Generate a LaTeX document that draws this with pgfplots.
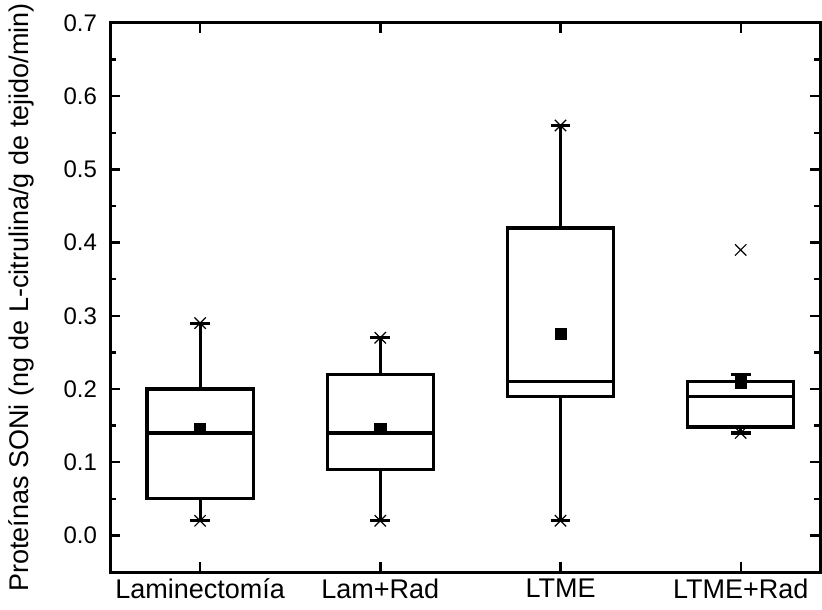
\documentclass[border=0pt]{standalone}
\usepackage{fontspec}
\setmainfont{Liberation Sans}
\usepackage{pgfplots}
\pgfplotsset{compat=1.18}
\begin{document}
\begin{tikzpicture}
\begin{axis}[
  scale only axis, width=355pt, height=274.5pt,
  xmin=0.5, xmax=4.44, ymin=-0.05, ymax=0.7,
  xtick={1,2,3,4},
  xticklabels={Laminectomía, Lam+Rad, LTME, LTME+Rad},
  ytick={0,0.1,0.2,0.3,0.4,0.5,0.6,0.7},
  minor y tick num=1,
  tick align=inside,
  major tick length=5pt, minor tick length=3pt,
  axis line style={line width=1.5pt},
  every tick/.style={black, line width=1.2pt},
  xticklabel style={font=\fontsize{13.5}{15}\selectfont},
  yticklabel style={font=\fontsize{12}{14}\selectfont, xshift=-3pt, /pgf/number format/.cd, fixed, fixed zerofill, precision=1, assume math mode=true},
  ylabel={Proteínas SONi (ng de L-citrulina/g de tejido/min)},
  ylabel style={font=\fontsize{13.5}{16}\selectfont},
  ylabel shift=8pt,
  unbounded coords=jump,
  clip=false,
]
% Box 1: Laminectomia
\addplot[black, line width=1.6pt, line join=miter, mark=none] coordinates {
 (0.705,0.05) (1.295,0.05) (1.295,0.20) (0.705,0.20) (0.705,0.05) (1.295,0.05) (nan,nan)
 (0.705,0.14) (1.295,0.14) (nan,nan)
 (1,0.05) (1,0.02) (nan,nan) (0.945,0.02) (1.055,0.02) (nan,nan)
 (1,0.20) (1,0.29) (nan,nan) (0.945,0.29) (1.055,0.29)
};
% Box 2: Lam+Rad
\addplot[black, line width=1.6pt, line join=miter, mark=none] coordinates {
 (1.705,0.09) (2.295,0.09) (2.295,0.22) (1.705,0.22) (1.705,0.09) (2.295,0.09) (nan,nan)
 (1.705,0.14) (2.295,0.14) (nan,nan)
 (2,0.09) (2,0.02) (nan,nan) (1.945,0.02) (2.055,0.02) (nan,nan)
 (2,0.22) (2,0.27) (nan,nan) (1.945,0.27) (2.055,0.27)
};
% Box 3: LTME
\addplot[black, line width=1.6pt, line join=miter, mark=none] coordinates {
 (2.705,0.19) (3.295,0.19) (3.295,0.42) (2.705,0.42) (2.705,0.19) (3.295,0.19) (nan,nan)
 (2.705,0.21) (3.295,0.21) (nan,nan)
 (3,0.19) (3,0.02) (nan,nan) (2.945,0.02) (3.055,0.02) (nan,nan)
 (3,0.42) (3,0.56) (nan,nan) (2.945,0.56) (3.055,0.56)
};
% Box 4: LTME+Rad
\addplot[black, line width=1.6pt, line join=miter, mark=none] coordinates {
 (3.705,0.148) (4.295,0.148) (4.295,0.21) (3.705,0.21) (3.705,0.148) (4.295,0.148) (nan,nan)
 (3.705,0.19) (4.295,0.19) (nan,nan)
 (4,0.148) (4,0.14) (nan,nan) (3.945,0.14) (4.055,0.14) (nan,nan)
 (4,0.21) (4,0.22) (nan,nan) (3.945,0.22) (4.055,0.22)
};
% means
\addplot[only marks, mark=square*, mark size=2.8pt, black] coordinates {(1,0.145) (2,0.146) (3,0.275) (4,0.209)};
% min / max and outlier markers
\addplot[only marks, mark=x, mark size=4pt, black, line width=0.6pt] coordinates {(1,0.02) (1,0.29) (2,0.02) (2,0.27) (3,0.02) (3,0.56) (4,0.14) (4,0.39)};
\end{axis}
\pgfresetboundingbox
\path ([shift={(-55pt,-18.5pt)}]current axis.south west) rectangle ([shift={(1pt,11.5pt)}]current axis.north east);
\end{tikzpicture}
\end{document}
